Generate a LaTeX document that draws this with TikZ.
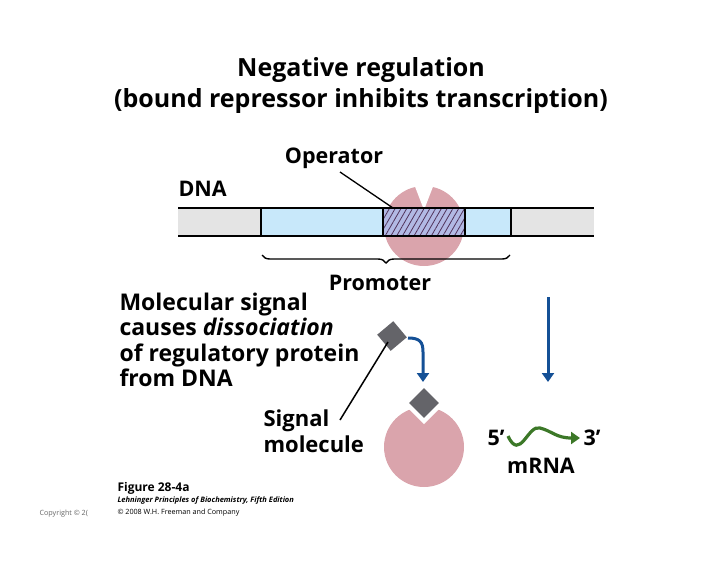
\documentclass[tikz,border=0pt]{standalone}
\usepackage{fontspec}
\setmainfont{Open Sans}
\usetikzlibrary{patterns.meta,decorations.pathreplacing,arrows.meta}
\definecolor{pinkp}{RGB}{218,164,172}
\definecolor{bluel}{RGB}{200,232,250}
\definecolor{grayl}{RGB}{228,228,228}
\definecolor{hatchb}{RGB}{178,185,228}
\definecolor{hatchl}{RGB}{80,50,90}
\definecolor{arrowb}{RGB}{20,80,150}
\definecolor{greenw}{RGB}{60,120,40}
\definecolor{sig}{RGB}{100,100,105}
\tikzset{
  big/.style={font=\fontsize{25}{30}\selectfont\bfseries},
  lbl/.style={font=\fontsize{21.5}{26}\selectfont\bfseries},
  blue arrow/.style={draw=arrowb, line width=3pt, -{Triangle[length=9pt,width=12pt]}},
  signal/.style={fill=sig, draw=none},
}
\begin{document}
\begin{tikzpicture}[x=1pt,y=-1pt]
\useasboundingbox (0,0) rectangle (728,563);
% title
\node[big] (t1) at (361,70) {Negative regulation};
\node[big] (t2) at (361,101) {(bound repressor inhibits transcription)};
% bound repressor behind DNA
\fill[pinkp] (424,226) circle (40);
\fill[white] (424,210) -- (414,184) -- (434,184) -- cycle;
% DNA
\fill[grayl] (178,208) rectangle (261,236);
\fill[grayl] (511,208) rectangle (594,236);
\fill[bluel] (261,208) rectangle (511,236);
\fill[hatchb] (383,208) rectangle (465,236);
\fill[pattern={Lines[angle=60,distance=5pt,line width=0.8pt]}, pattern color=hatchl] (383,208) rectangle (465,236);
\draw[line width=1.2pt] (178,208) -- (594,208) (178,236) -- (594,236);
\draw[line width=1.2pt] (261,208) -- (261,236) (383,208) -- (383,236)
  (465,208) -- (465,236) (511,208) -- (511,236);
\node[lbl, anchor=west] (dna) at (175,189) {DNA};
\node[lbl] (op) at (334,158) {Operator};
\coordinate (opend) at (393,208);
\draw[line width=1.3pt] (340,172) -- (opend);
% promoter brace
\coordinate (b1) at (510,255);
\coordinate (b2) at (262,255);
\draw[line width=1.4pt, decorate, decoration={brace, amplitude=8pt}] (b1) -- (b2);
\node[lbl] (prom) at (380,283) {Promoter};
% left text
\node[anchor=west, align=left, font=\fontsize{23}{25.5}\selectfont\bfseries] (ms) at (116,340)
  {Molecular signal\\causes \textit{dissociation}\\of regulatory protein\\from DNA};
% signal molecule
\node[signal, minimum size=21pt, rotate=40, inner sep=0pt] (sm1) at (392,336) {};
\node[anchor=west, align=left, font=\fontsize{22}{26}\selectfont\bfseries] (sl) at (260,431) {Signal\\molecule};
\coordinate (slend) at (340,420);
\draw[line width=1.5pt] (slend) -- (388,342);
% blue arrows
\coordinate (ba) at (408,338);
\coordinate (bb) at (423,382);
\draw[blue arrow] (ba) .. controls (420,338) and (423,342) .. (423,352) -- (bb);
\coordinate (bc) at (548,297);
\coordinate (bd) at (548,382);
\draw[blue arrow] (bc) -- (bd);
% free repressor with signal
\fill[pinkp] (424,447) circle (40);
\fill[white] (424,424) -- (399,399) -- (449,399) -- cycle;
\node[signal, minimum size=21pt, rotate=45, inner sep=0pt] (sm2) at (424,403) {};
% mRNA
\node[lbl] (p5) at (496,438) {5’};
\node[lbl] (p3) at (592,438) {3’};
\draw[greenw, line width=3.2pt, -{Triangle[length=9pt,width=12pt]}]
  (508,436) .. controls (520,462) and (528,424) .. (540,428)
  .. controls (552,431) and (556,438) .. (p3.west);
\node[lbl] (mr) at (541,466) {mRNA};
% caption
\node[anchor=west, font=\fontsize{12}{13}\selectfont\bfseries] (fg) at (114,488) {Figure 28-4a};
\node[anchor=west, font=\fontsize{7.5}{9}\selectfont\bfseries\itshape] (lh) at (114,501) {Lehninger Principles of Biochemistry, Fifth Edition};
\node[anchor=west, font=\fontsize{7.2}{9}\selectfont] (cp) at (114,513) {© 2008 W.H. Freeman and Company};
\node[anchor=west, font=\fontsize{7.2}{9}\selectfont, text=black!60] (cp0) at (36,514) {Copyright © 2(};
\end{tikzpicture}
\end{document}
